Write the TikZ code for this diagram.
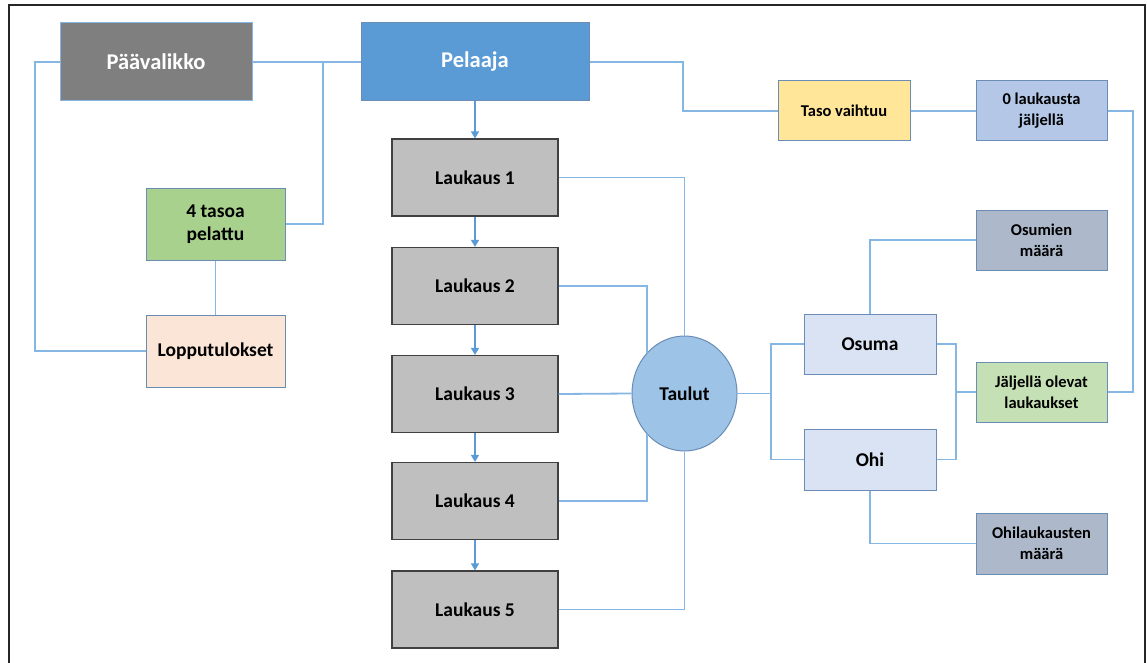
\documentclass[tikz,border=0pt]{standalone}
\usepackage{fontspec}
\setmainfont{Carlito}
\usetikzlibrary{shapes.geometric,arrows.meta}

\definecolor{linkblue}{HTML}{86B6E3}
\definecolor{arrowblue}{HTML}{5B9BD5}
\definecolor{edgeblue}{HTML}{6A8CB5}
\definecolor{menugray}{HTML}{7F7F7F}
\definecolor{playerblue}{HTML}{5B9BD5}
\definecolor{shotgray}{HTML}{BFBFBF}
\definecolor{shotedge}{HTML}{404040}
\definecolor{donegreen}{HTML}{A9D18E}
\definecolor{resultpeach}{HTML}{FBE5D6}
\definecolor{levelyellow}{HTML}{FFE699}
\definecolor{zeroblue}{HTML}{B4C7E7}
\definecolor{countgray}{HTML}{ADB9CA}
\definecolor{leftgreen}{HTML}{C5E0B4}
\definecolor{hitblue}{HTML}{DAE3F3}
\definecolor{boardblue}{HTML}{9DC3E6}

\newcommand{\bigtxt}{\fontsize{22.5}{26}\selectfont\bfseries}
\newcommand{\midtxt}{\fontsize{19.5}{23}\selectfont\bfseries}
\newcommand{\smalltxt}{\fontsize{16.5}{21}\selectfont\bfseries}

\tikzset{
  box/.style={draw=edgeblue, line width=1pt, inner sep=0pt, align=center,
    minimum width=#1},
  box/.default={131pt},
  shotbox/.style={draw=shotedge, fill=shotgray, line width=1.2pt, inner sep=0pt,
    minimum width=166pt, minimum height=77pt, font=\midtxt},
  link/.style={draw=linkblue, line width=1.8pt},
  flow/.style={draw=arrowblue, line width=1.3pt,
    -{Triangle[length=7pt,width=8pt]}},
}

\begin{document}
\begin{tikzpicture}[x=1pt, y=-1pt]
\useasboundingbox (0,0) rectangle (1147,663);

% page frame
\draw[line width=2pt, black!85] (9,663) -- (9,5) -- (1145,5) -- (1145,663);

% main menu and player
\node[box=192pt, minimum height=78pt, fill=menugray, draw=linkblue,
      text=white, font=\bigtxt] (pv) at (156,62) {Päävalikko};
\node[box=228pt, minimum height=78pt, fill=playerblue, draw=edgeblue,
      text=white, font=\bigtxt] (pel) at (475,62) {Pelaaja};

% left column
\node[box=139pt, minimum height=72pt, fill=donegreen, font=\midtxt]
      (t4) at (215.5,224) {4 tasoa\\pelattu};
\node[box=139pt, minimum height=72pt, fill=resultpeach, font=\midtxt]
      (lop) at (215.5,351) {Lopputulokset};

% shots
\node[shotbox] (l1) at (475,177.5) {Laukaus 1};
\node[shotbox] (l2) at (475,286)   {Laukaus 2};
\node[shotbox] (l3) at (475,394)   {Laukaus 3};
\node[shotbox] (l4) at (475,501)   {Laukaus 4};
\node[shotbox] (l5) at (475,609.5) {Laukaus 5};

% junction points
\coordinate (menuloop) at (35,62);
\coordinate (donejoin) at (323,62);
\coordinate (levelturn) at (683,111);
\coordinate (zeroturn) at (1133,111);
\coordinate (hitbar) at (956,344);
\coordinate (hitjoin) at (956,392);
\coordinate (boardfork) at (771,393.5);

% targets
\node[ellipse, draw=edgeblue, fill=boardblue, line width=1pt, inner sep=0pt,
      minimum width=105pt, minimum height=115pt, font=\midtxt]
      (taulut) at (684.5,393.5) {Taulut};

% results of a shot
\node[box=132pt, minimum height=60pt, fill=hitblue, font=\midtxt]
      (osuma) at (870,344) {Osuma};
\node[box=132pt, minimum height=61pt, fill=hitblue, font=\midtxt]
      (ohi) at (870,459.5) {Ohi};

% right column
\node[box=132pt, minimum height=60pt, fill=levelyellow, font=\smalltxt]
      (taso) at (844,111) {Taso vaihtuu};
\node[box, minimum height=60pt, fill=zeroblue, font=\smalltxt]
      (zero) at (1041.5,111) {0 laukausta\\jäljellä};
\node[box, minimum height=60pt, fill=countgray, font=\smalltxt]
      (osm) at (1041.5,240) {Osumien\\määrä};
\node[box, minimum height=60pt, fill=leftgreen, font=\smalltxt]
      (jal) at (1041.5,392) {Jäljellä olevat\\laukaukset};
\node[box, minimum height=61pt, fill=countgray, font=\smalltxt]
      (ohl) at (1041.5,543.5) {Ohilaukausten\\määrä};

% connectors on the left
\draw[link] (pv.west) -- (menuloop) |- (lop.west);
\draw[link] (pv.east) -- (pel.west);
\draw[link] (donejoin) |- (t4.east);
\draw[link] (t4.south) -- (lop.north);

% player to level change
\draw[link] (pel.east) -| (levelturn) -- (taso.west);
\draw[link] (taso.east) -- (zero.west);
\draw[link] (zero.east) -- (zeroturn) |- (jal.east);

% shot sequence
\draw[flow] (pel.south) -- (l1.north);
\draw[flow] (l1.south) -- (l2.north);
\draw[flow] (l2.south) -- (l3.north);
\draw[flow] (l3.south) -- (l4.north);
\draw[flow] (l4.south) -- (l5.north);

% shots to targets
\draw[link] (l1.east) -| (taulut.north);
\draw[link] (l2.east) -| (taulut.133);
\draw[link] (l3.east) -- (taulut.west);
\draw[link] (l4.east) -| (taulut.227);
\draw[link] (l5.east) -| (taulut.south);

% targets to hit / miss
\draw[link] (taulut.east) -- (boardfork);
\draw[link] (osuma.west) -| (boardfork);
\draw[link] (ohi.west) -| (boardfork);
\draw[link] (osuma.east) -- (hitbar) |- (ohi.east);
\draw[link] (hitjoin) -- (jal.west);
\draw[link] (osm.west) -| (osuma.north);
\draw[link] (ohi.south) |- (ohl.west);
\end{tikzpicture}
\end{document}
